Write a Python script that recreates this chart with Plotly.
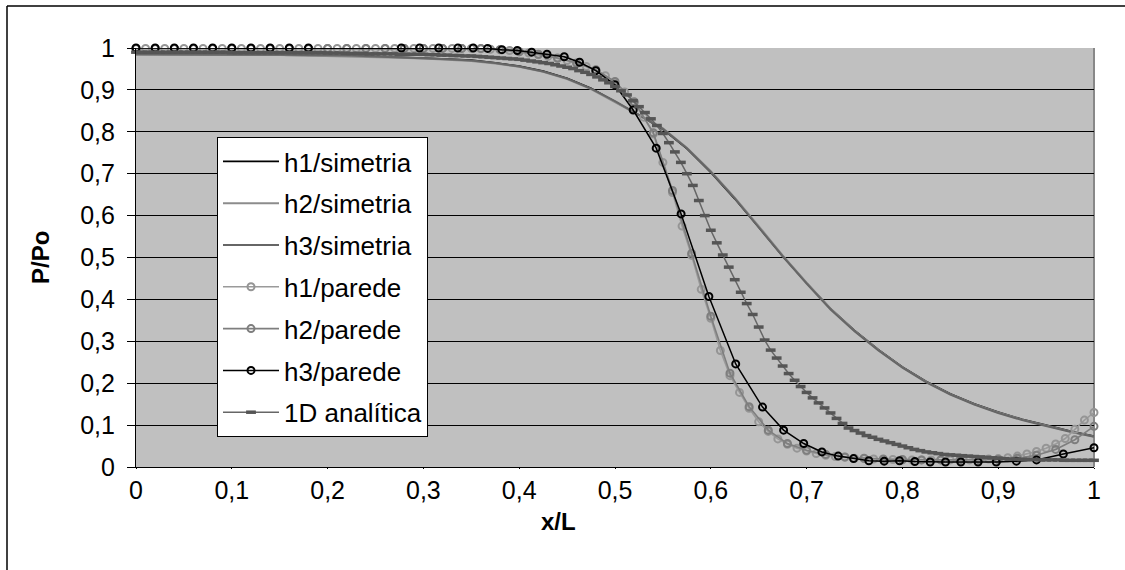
import numpy as np
import plotly.graph_objects as go

# ---------------- data ----------------
x_sim = [round(i * 0.025, 3) for i in range(41)]
h1_sim = [0.985,0.985,0.985,0.984,0.984,0.984,0.983,0.983,0.982,0.981,0.980,0.978,0.976,0.974,0.971,0.965,0.957,0.945,0.928,0.904,
          0.873,0.840,0.806,0.760,0.703,0.640,0.572,0.503,0.439,0.378,0.326,0.280,0.239,0.204,0.175,0.151,0.131,0.114,0.100,0.086,0.074]
h2_sim = [0.984,0.984,0.984,0.984,0.983,0.983,0.983,0.982,0.981,0.980,0.979,0.977,0.975,0.972,0.969,0.963,0.955,0.943,0.926,0.902,
          0.872,0.840,0.808,0.762,0.706,0.643,0.575,0.505,0.440,0.378,0.325,0.279,0.238,0.203,0.174,0.150,0.130,0.113,0.099,0.085,0.073]
h3_sim = [0.985,0.985,0.985,0.985,0.984,0.984,0.984,0.983,0.983,0.982,0.980,0.978,0.976,0.973,0.970,0.964,0.956,0.944,0.927,0.903,
          0.873,0.841,0.807,0.761,0.704,0.641,0.573,0.503,0.438,0.376,0.324,0.278,0.237,0.202,0.173,0.149,0.129,0.112,0.098,0.084,0.072]

x_h1p = [round(i * 0.01, 2) for i in range(101)]
h1_par = [0.999,0.999,0.999,0.999,0.999,0.999,0.999,0.999,0.999,0.999,0.999,0.999,0.999,0.999,0.999,0.999,0.999,0.999,
          0.999,0.999,0.999,0.999,0.999,0.999,0.999,0.999,0.999,0.999,0.999,0.999,0.999,0.999,0.999,0.999,0.999,0.999,
          0.998,0.997,0.996,0.994,0.991,0.988,0.984,0.980,0.975,0.970,0.963,0.956,0.947,0.934,
          0.918,0.895,0.870,0.835,0.795,0.727,0.655,0.575,0.505,0.424,
          0.355,0.278,0.218,0.178,0.140,0.108,0.085,0.067,0.054,0.045,
          0.038,0.032,0.028,0.025,0.023,0.021,0.020,0.019,0.018,0.018,
          0.017,0.017,0.017,0.017,0.017,0.017,0.017,0.017,0.018,0.019,
          0.020,0.022,0.026,0.031,0.037,0.045,0.055,0.068,0.090,0.112,0.130]

x_h2p = [round(i * 0.02, 2) for i in range(51)]
h2_par = [0.999,0.999,0.999,0.999,0.999,0.999,0.999,0.999,0.999,0.999,0.999,0.999,0.999,0.999,0.999,0.999,0.999,0.999,0.999,
          0.996,0.991,0.985,0.976,0.964,0.948,0.920,0.872,0.798,0.660,0.510,0.360,0.224,0.144,0.088,0.056,0.040,
          0.030,0.024,0.021,0.019,0.018,0.017,0.017,0.017,0.017,0.018,0.021,0.028,0.042,0.065,0.097]

x_h3p = [0, 0.02, 0.04, 0.06, 0.08, 0.10, 0.12, 0.14, 0.16, 0.18, 0.277, 0.296, 0.316, 0.336, 0.352,
         0.367, 0.382, 0.398, 0.413, 0.429, 0.447, 0.463, 0.480, 0.500, 0.519, 0.543, 0.569, 0.598, 0.626,
         0.654, 0.676, 0.697, 0.716, 0.733, 0.749, 0.765, 0.781, 0.797, 0.813, 0.829, 0.845, 0.861, 0.879,
         0.898, 0.919, 0.940, 0.968, 1.0]
h3_par = [1.0, 1.0, 1.0, 1.0, 1.0, 1.0, 1.0, 1.0, 1.0, 1.0, 1.0, 1.0, 1.0, 1.0, 1.0,
          0.999, 0.996, 0.994, 0.990, 0.985, 0.979, 0.966, 0.946, 0.912, 0.852, 0.761, 0.604, 0.407, 0.246,
          0.143, 0.088, 0.056, 0.036, 0.026, 0.020, 0.015, 0.014, 0.015, 0.013, 0.012, 0.012, 0.012, 0.012,
          0.012, 0.014, 0.017, 0.031, 0.046]

x_1d = [round(i / 160, 5) for i in range(161)]
an_1d = [0.990,0.990,0.990,0.990,0.990,0.990,0.990,0.990,0.990,0.990,0.990,0.990,0.990,0.990,0.990,0.990,
         0.989,0.989,0.989,0.989,0.989,0.989,0.989,0.989,0.989,0.989,0.989,0.989,0.989,0.989,0.989,0.989,
         0.988,0.988,0.988,0.987,0.987,0.987,0.987,0.986,0.986,
         0.986,0.986,0.986,0.985,0.985,0.985,0.985,0.985,
         0.984,0.984,0.983,0.983,0.982,0.982,0.981,0.981,0.980,0.979,0.978,0.977,0.976,0.975,0.974,0.973,
         0.971,0.969,0.967,0.965,0.963,0.960,0.957,0.954,0.951,0.946,0.942,0.937,0.931,0.924,0.917,0.908,
         0.898,0.888,0.874,0.860,0.846,0.831,0.815,0.796,0.774,0.752,0.727,0.700,0.672,0.636,0.600,0.565,
         0.535,0.506,0.477,0.447,0.417,0.390,0.364,0.334,0.303,0.279,0.260,0.241,0.223,0.207,0.192,0.178,
         0.165,0.153,0.141,0.129,0.116,0.104,0.093,0.087,0.081,0.075,0.071,0.066,0.062,0.058,0.054,0.050,
         0.046,0.042,0.039,0.036,0.034,0.032,0.030,0.029,0.028,0.027,0.026,0.025,0.024,0.023,0.022,0.021,
         0.020,0.019,0.019,0.018,0.018,0.018,0.017,0.017,0.017,0.017,0.016,0.016,0.016,0.016,0.016,0.016]

x_ticks = [0, 0.1, 0.2, 0.3, 0.4, 0.5, 0.6, 0.7, 0.8, 0.9, 1]
y_ticks = [0, 0.1, 0.2, 0.3, 0.4, 0.5, 0.6, 0.7, 0.8, 0.9, 1]

# ---------------- figure ----------------
FONT = "Liberation Sans, Arial, sans-serif"
fig = go.Figure()

def add(name, x, y, color, width, marker=None, mode="lines"):
    kw = dict(x=x, y=y, name=name, mode=mode, line=dict(color=color, width=width),
              legendgroup=name, cliponaxis=False)
    if marker:
        kw["marker"] = marker
    fig.add_trace(go.Scatter(**kw))

add("h1/simetria", x_sim, h1_sim, "#000000", 1.6)
add("h2/simetria", x_sim, h2_sim, "#8c8c8c", 2)
add("h3/simetria", x_sim, h3_sim, "#666666", 2)
add("h1/parede", x_h1p, h1_par, "#9a9a9a", 1.6,
    marker=dict(symbol="circle-open", size=7, color="#959595", line=dict(width=2)), mode="lines+markers")
add("h2/parede", x_h2p, h2_par, "#7e7e7e", 1.6,
    marker=dict(symbol="circle-open", size=7, color="#7e7e7e", line=dict(width=2)), mode="lines+markers")
add("h3/parede", x_h3p, h3_par, "#000000", 1.5,
    marker=dict(symbol="circle-open", size=7, color="#000000", line=dict(width=2)), mode="lines+markers")
add("1D analítica", x_1d, an_1d, "#666666", 1.5,
    marker=dict(symbol="line-ew", size=7, color="#555555", line=dict(width=3.5, color="#555555")), mode="lines+markers")

L, R, T, B = 136, 31, 48, 103
W, H = 1125, 570
pw, ph = W - L - R, H - T - B
def px(xp):
    return (xp - L) / pw
def py(yp):
    return (H - B - yp) / ph

fig.update_layout(
    width=W, height=H,
    margin=dict(l=L, r=R, t=T, b=B, autoexpand=False),
    paper_bgcolor="white", plot_bgcolor="#c0c0c0",
    separators=",.",
    font=dict(family=FONT, size=25, color="black"),
    legend=dict(x=px(217), y=py(137), xanchor="left", yanchor="top",
                bgcolor="white", bordercolor="black", borderwidth=1,
                font=dict(family=FONT, size=26, color="black"),
                traceorder="grouped", tracegroupgap=5, itemwidth=56),
    # labelled x axis (short ticks so labels sit close to the axis line)
    xaxis=dict(range=[0, 1], tickvals=x_ticks, ticks="outside", ticklen=1, tickcolor="black",
               showline=True, linecolor="black", linewidth=1.2, showgrid=False, zeroline=False,
               tickfont=dict(size=25)),
    # overlay axis carrying the longer tick marks
    xaxis2=dict(range=[0, 1], overlaying="x", anchor="y", side="bottom", tickvals=x_ticks,
                ticks="outside", ticklen=8, tickcolor="black", showticklabels=False,
                showline=False, showgrid=False, zeroline=False),
    yaxis=dict(range=[0, 1], tickvals=y_ticks, ticks="outside", ticklen=8, tickcolor="black",
               showline=True, linecolor="black", linewidth=1.2, showgrid=True, gridcolor="black",
               gridwidth=1, zeroline=False, tickfont=dict(size=25), ticklabelstandoff=7),
    annotations=[
        dict(text="<b>x/L</b>", xref="paper", yref="paper", x=px(558), y=py(521),
             xanchor="center", yanchor="middle", showarrow=False, font=dict(size=24)),
        dict(text="<b>P/Po</b>", xref="paper", yref="paper", x=px(40), y=py(258),
             xanchor="center", yanchor="middle", showarrow=False, textangle=-90, font=dict(size=24)),
    ],
    shapes=[
        dict(type="line", xref="paper", yref="paper", x0=1, x1=1, y0=0, y1=1,
             line=dict(color="#888888", width=2), layer="below"),
        dict(type="line", xref="paper", yref="paper", x0=px(7), x1=px(1125), y0=py(6), y1=py(6),
             line=dict(color="black", width=1.5)),
        dict(type="line", xref="paper", yref="paper", x0=px(7), x1=px(7), y0=py(6), y1=py(570),
             line=dict(color="black", width=1.5)),
    ],
)

fig.write_html("out.html")
